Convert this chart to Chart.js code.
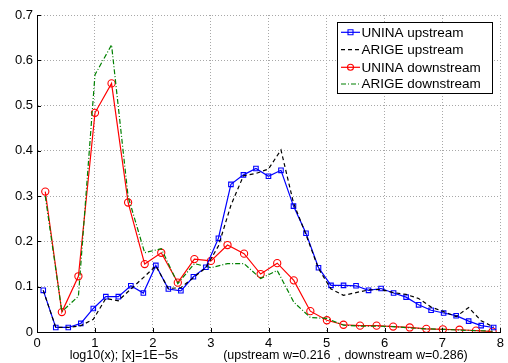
<!DOCTYPE html>
<html>
<head>
<meta charset="utf-8">
<script src="https://cdn.jsdelivr.net/npm/chart.js@4.4.1/dist/chart.umd.min.js"></script>
<style>
html,body{margin:0;padding:0;background:#fff;}
#wrap{width:508px;height:363px;position:relative;}
</style>
</head>
<body>
<div id="wrap"><canvas id="c" width="508" height="363"></canvas></div>
<script>
// ---- data ----
const upX = [0.108,0.324,0.540,0.756,0.972,1.188,1.404,1.620,1.836,2.052,2.268,2.484,2.700,2.916,3.132,3.348,3.564,3.780,3.996,4.212,4.428,4.644,4.860,5.076,5.292,5.508,5.724,5.940,6.156,6.372,6.588,6.804,7.020,7.236,7.452,7.668,7.884];
const uninaUp = [0.092,0.010,0.010,0.019,0.052,0.078,0.078,0.102,0.086,0.147,0.095,0.091,0.122,0.143,0.207,0.326,0.347,0.361,0.344,0.357,0.278,0.218,0.142,0.103,0.103,0.102,0.092,0.096,0.086,0.077,0.060,0.048,0.042,0.036,0.024,0.014,0.010];
const arigeUp = [0.092,0.010,0.010,0.014,0.028,0.074,0.069,0.095,0.120,0.146,0.096,0.098,0.120,0.142,0.190,0.280,0.345,0.350,0.360,0.402,0.285,0.215,0.140,0.095,0.081,0.087,0.093,0.094,0.087,0.083,0.074,0.055,0.045,0.034,0.054,0.025,0.011];
const downX = [0.143,0.429,0.715,1.001,1.287,1.573,1.859,2.145,2.431,2.717,3.003,3.289,3.575,3.861,4.147,4.433,4.719,5.005,5.291,5.577,5.863,6.149,6.435,6.721,7.007,7.293,7.579,7.865];
const uninaDown = [0.310,0.044,0.123,0.484,0.549,0.286,0.150,0.175,0.109,0.161,0.157,0.192,0.173,0.128,0.152,0.114,0.046,0.026,0.016,0.014,0.014,0.012,0.010,0.007,0.006,0.005,0.003,0.001];
const arigeDown = [0.300,0.045,0.079,0.568,0.634,0.299,0.175,0.184,0.107,0.151,0.142,0.151,0.151,0.118,0.136,0.066,0.032,0.030,0.015,0.013,0.013,0.012,0.009,0.007,0.006,0.004,0.003,0.002];
const xTicks = [0,1,2,3,4,5,6,7,8];
const yTicks = [0,0.1,0.2,0.3,0.4,0.5,0.6,0.7];
const seriesNames = ["UNINA upstream","ARIGE upstream","UNINA downstream","ARIGE downstream"];
const xTitle = "log10(x); [x]=1E\u22125s             (upstream w=0.216  , downstream w=0.286)";

const pts = (xs, ys) => xs.map((x, i) => ({x: x, y: ys[i]}));
const FONT = "'Liberation Sans', Arial, Helvetica, sans-serif";

const datasets = [
  {label: seriesNames[0], data: pts(upX, uninaUp), borderColor:'#0000ff', borderWidth:1.2,
   pointStyle:'rect', pointRadius:3.2, pointBorderColor:'#0000ff', pointBackgroundColor:'rgba(0,0,0,0)', pointBorderWidth:1.1, order:2},
  {label: seriesNames[1], data: pts(upX, arigeUp), borderColor:'#000000', borderWidth:1.2, borderDash:[4,3],
   pointRadius:0, order:1},
  {label: seriesNames[2], data: pts(downX, uninaDown), borderColor:'#ff0000', borderWidth:1.2,
   pointStyle:'circle', pointRadius:3.6, pointBorderColor:'#ff0000', pointBackgroundColor:'rgba(0,0,0,0)', pointBorderWidth:1.1, order:4},
  {label: seriesNames[3], data: pts(downX, arigeDown), borderColor:'#008000', borderWidth:1.2, borderDash:[5,2,1,2],
   pointRadius:0, order:3}
];

// inward ticks + custom legend inside the plot
const extras = {
  id:'extras',
  afterDraw(chart){
    const ctx = chart.ctx, a = chart.chartArea;
    const xs = chart.scales.x, ys = chart.scales.y;
    ctx.save();
    ctx.strokeStyle = '#000'; ctx.lineWidth = 1;
    xTicks.forEach(v => {
      const px = Math.round(xs.getPixelForValue(v)) + 0.5;
      ctx.beginPath(); ctx.moveTo(px, a.bottom); ctx.lineTo(px, a.bottom - 4); ctx.stroke();
    });
    yTicks.forEach(v => {
      const py = Math.round(ys.getPixelForValue(v)) + 0.5;
      ctx.beginPath(); ctx.moveTo(a.left, py); ctx.lineTo(a.left + 4, py); ctx.stroke();
    });
    // legend
    const bx = 337.5, by = 22.5, bw = 155, bh = 71;
    ctx.fillStyle = '#fff'; ctx.fillRect(bx, by, bw, bh);
    ctx.strokeStyle = '#000'; ctx.lineWidth = 1; ctx.setLineDash([]);
    ctx.strokeRect(bx, by, bw, bh);
    const rowsY = [32.3, 49.7, 67.3, 84];
    ctx.font = '13.5px ' + FONT; ctx.textBaseline = 'middle'; ctx.textAlign = 'left';
    chart.data.datasets.forEach((d, i) => {
      const y = rowsY[i];
      ctx.save();
      ctx.strokeStyle = d.borderColor; ctx.lineWidth = d.borderWidth;
      ctx.setLineDash(d.borderDash || []);
      ctx.beginPath(); ctx.moveTo(341, y); ctx.lineTo(360, y); ctx.stroke();
      ctx.setLineDash([]);
      if (d.pointRadius > 0) {
        ctx.lineWidth = 1.1; ctx.strokeStyle = d.pointBorderColor;
        ctx.beginPath();
        if (d.pointStyle === 'rect') { ctx.rect(350.5 - 2.5, y - 2.5, 5, 5); }
        else { ctx.arc(350.5, y, 3, 0, Math.PI * 2); }
        ctx.stroke();
      }
      ctx.restore();
      ctx.fillStyle = '#000';
      ctx.fillText(d.label, 361.5, y + 0.5);
    });
    ctx.restore();
  }
};

new Chart(document.getElementById('c'), {
  type:'line',
  data:{datasets: datasets},
  options:{
    responsive:false, animation:false, devicePixelRatio:1,
    layout:{padding:{left:0, right:7, top:15, bottom:0}},
    plugins:{legend:{display:false}, tooltip:{enabled:false}},
    elements:{line:{tension:0}},
    scales:{
      x:{type:'linear', min:0, max:8,
        afterBuildTicks(s){ s.ticks = xTicks.map(v => ({value:v})); },
        afterFit(s){ s.height = 31; },
        grid:{color:'#a8a8a8', lineWidth:1, drawTicks:false},
        border:{display:true, color:'#000', width:1, dash:[1,2]},
        ticks:{padding:4, color:'#000', font:{family:FONT, size:13}, maxRotation:0},
        title:{display:true, text:xTitle, color:'#000', font:{family:FONT, size:12.5}, padding:{top:0, bottom:0}}
      },
      y:{type:'linear', min:0, max:0.7,
        afterBuildTicks(s){ s.ticks = yTicks.map(v => ({value:v})); },
        afterFit(s){ s.width = 37; },
        grid:{color:'#a8a8a8', lineWidth:1, drawTicks:false},
        border:{display:true, color:'#000', width:1, dash:[1,2]},
        ticks:{padding:4, color:'#000', font:{family:FONT, size:13},
          callback:(v) => String(Math.round(v * 10) / 10)}
      }
    }
  },
  plugins:[extras]
});
</script>
</body>
</html>
